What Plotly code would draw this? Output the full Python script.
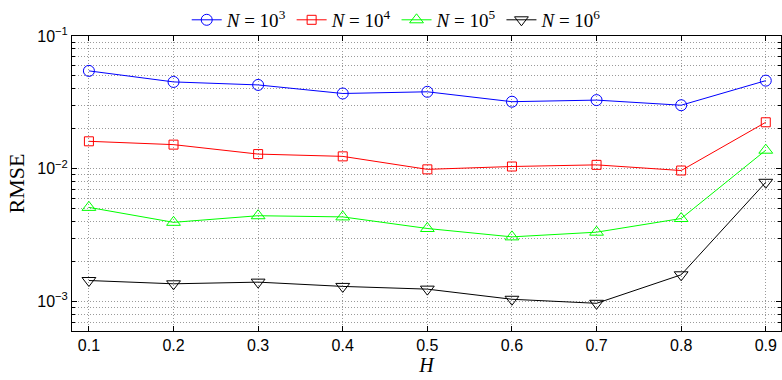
import numpy as np
import plotly.graph_objects as go

H = [0.1, 0.2, 0.3, 0.4, 0.5, 0.6, 0.7, 0.8, 0.9]
rmse_1e3 = [0.0546, 0.0451, 0.0428, 0.0369, 0.0380, 0.0320, 0.0329, 0.0301, 0.0461]
rmse_1e4 = [0.0161, 0.0152, 0.0129, 0.0124, 0.0099, 0.0104, 0.0107, 0.0097, 0.0224]
rmse_1e5 = [0.00512, 0.00395, 0.00443, 0.00434, 0.00355, 0.00307, 0.00333, 0.00422, 0.0138]
rmse_1e6 = [0.00144, 0.00136, 0.00140, 0.00130, 0.00124, 0.00104, 0.00097, 0.00159, 0.00791]
series_names = ["<i>N</i> = 10<sup>3</sup>", "<i>N</i> = 10<sup>4</sup>",
                "<i>N</i> = 10<sup>5</sup>", "<i>N</i> = 10<sup>6</sup>"]
x_ticks = [0.1, 0.2, 0.3, 0.4, 0.5, 0.6, 0.7, 0.8, 0.9]
x_ticklabels = ["0.1", "0.2", "0.3", "0.4", "0.5", "0.6", "0.7", "0.8", "0.9"]
y_ticks = [1e-3, 1e-2, 1e-1]
y_ticklabels = ["10<sup>\u22123</sup>", "10<sup>\u22122</sup>", "10<sup>\u22121</sup>"]

colors = ["#0000ff", "#ff0000", "#00ff00", "#000000"]
symbols = ["circle-open", "square-open", "triangle-up-open", "triangle-down-open"]
sizes = [11, 9, 12, 12]

fig = go.Figure()
for ys, name, c, s, sz in zip([rmse_1e3, rmse_1e4, rmse_1e5, rmse_1e6], series_names, colors, symbols, sizes):
    fig.add_trace(go.Scatter(
        x=H, y=ys, name=name, mode="lines+markers",
        line=dict(color=c, width=1),
        marker=dict(symbol=s, size=sz, color=c, line=dict(color=c, width=1)),
    ))

minor_vals = [m * 10.0 ** e for e in (-4, -3, -2) for m in range(2, 10)]
grid_col = "#9a9a9a"
grid_dash = "1px,2px"

fig.update_layout(
    width=782, height=380,
    margin=dict(l=72, r=1, t=34, b=49),
    paper_bgcolor="white", plot_bgcolor="white",
    font=dict(family="Liberation Sans, Arial, sans-serif", size=16, color="black"),
    legend=dict(
        orientation="h", x=0.458, xanchor="center", y=0.99, yanchor="bottom",
        font=dict(family="Liberation Serif, Times New Roman, serif", size=19),
        bgcolor="rgba(0,0,0,0)", itemwidth=30, tracegroupgap=0,
    ),
    xaxis=dict(
        range=[0.08, 0.918],
        tickvals=x_ticks, ticktext=x_ticklabels,
        ticks="inside", ticklen=5, tickcolor="black",
        showline=True, linecolor="black", linewidth=1, mirror="ticks",
        showgrid=True, gridcolor=grid_col, griddash=grid_dash, gridwidth=1,
        zeroline=False,
        title=dict(text="<i>H</i>", font=dict(family="Liberation Serif, Times New Roman, serif", size=20), standoff=2),
    ),
    yaxis=dict(
        type="log", range=[np.log10(6.0e-4), -1],
        tickvals=y_ticks, ticktext=y_ticklabels,
        ticks="inside", ticklen=5, tickcolor="black",
        showline=True, linecolor="black", linewidth=1, mirror="ticks",
        showgrid=True, gridcolor=grid_col, griddash=grid_dash, gridwidth=1,
        zeroline=False,
        minor=dict(tickmode="array", tickvals=minor_vals, ticks="inside", ticklen=3,
                   tickcolor="black", showgrid=True, gridcolor=grid_col, griddash=grid_dash, gridwidth=1),
        title=dict(text="RMSE", font=dict(family="Liberation Serif, Times New Roman, serif", size=22), standoff=6),
    ),
)

fig.write_html("out.html")
